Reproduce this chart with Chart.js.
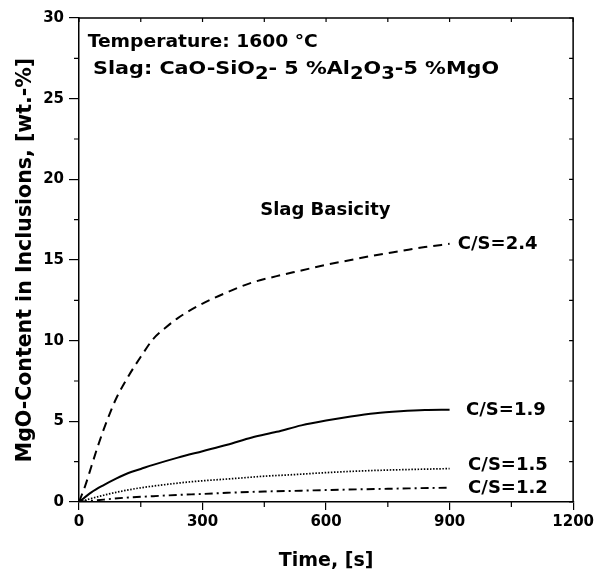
<!DOCTYPE html>
<html>
<head>
<meta charset="utf-8">
<script src="https://cdn.jsdelivr.net/npm/chart.js@4.4.1/dist/chart.umd.min.js"></script>
<style>
  html, body { margin:0; padding:0; background:#fff; }
  #wrap { width:597px; height:579px; }
</style>
</head>
<body>
<div id="wrap"><canvas id="mgoChart" width="597" height="579"></canvas></div>
<script>
// time axis (s) and MgO content (wt.-%)
const time24 = [0, 15, 30, 45, 60, 75, 90, 120, 150, 180, 210, 240, 300, 360, 420, 480, 540, 600, 660, 720, 780, 840, 900];
const cs24   = [0, 1.0, 2.2, 3.4, 4.5, 5.5, 6.4, 7.8, 9.0, 10.1, 10.8, 11.4, 12.3, 13.0, 13.6, 14.0, 14.35, 14.7, 15.0, 15.3, 15.55, 15.8, 16.0];

const time19 = [0, 30, 60, 90, 120, 150, 180, 240, 300, 360, 420, 480, 540, 600, 660, 720, 780, 840, 900];
const cs19   = [0, 0.6, 1.05, 1.45, 1.8, 2.05, 2.3, 2.75, 3.15, 3.55, 4.0, 4.35, 4.75, 5.05, 5.3, 5.5, 5.62, 5.7, 5.72];

const time15 = [0, 30, 60, 90, 120, 150, 210, 270, 330, 390, 450, 510, 600, 690, 780, 900];
const cs15   = [0, 0.22, 0.42, 0.6, 0.75, 0.88, 1.08, 1.25, 1.37, 1.48, 1.6, 1.68, 1.82, 1.93, 2.0, 2.07];

const time12 = [0, 60, 120, 180, 240, 300, 360, 450, 540, 600, 750, 900];
const cs12   = [0, 0.15, 0.28, 0.36, 0.44, 0.5, 0.57, 0.65, 0.7, 0.74, 0.82, 0.89];

const xTicks = [0, 300, 600, 900, 1200];
const yTicks = [0, 5, 10, 15, 20, 25, 30];

const FONT = "'DejaVu Sans', sans-serif";

function pts(t, v){
  return t.map((x,i)=>({ x, y: v[i] }));
}

function series(label, t, v, dash, w){
  return {
    label,
    data: pts(t, v),
    showLine: true,
    borderColor: '#000',
    borderWidth: w,
    borderDash: dash,
    pointRadius: 0,
    cubicInterpolationMode: 'monotone',
    fill: false
  };
}

// draws [text, isSubscript] pieces in a row, stretched between x0 and x1
function stretchedLine(ctx, pieces, x0, x1, by, big, sub){
  const widthOf = ([s, isSub]) => { ctx.font = isSub ? sub : big; return ctx.measureText(s).width; };
  const natural = pieces.reduce((w, p)=>w + widthOf(p), 0);
  ctx.save();
  ctx.translate(x0, by);
  ctx.scale((x1 - x0) / natural, 1);
  let cx = 0;
  pieces.forEach(p=>{
    const w = widthOf(p);
    ctx.fillText(p[0], cx, p[1] ? 5 : 0);
    cx += w;
  });
  ctx.restore();
}

// minor ticks, inner ticks on top/right, frame and text labels
const decorations = {
  id: 'decorations',
  afterDraw(chart){
    const { ctx, chartArea: a, scales: { x, y } } = chart;
    ctx.save();
    ctx.strokeStyle = '#000';
    ctx.lineWidth = 1.5;
    ctx.beginPath();
    ctx.moveTo(a.left, a.top); ctx.lineTo(a.right, a.top); ctx.lineTo(a.right, a.bottom);
    ctx.stroke();

    ctx.lineWidth = 1.2;
    ctx.beginPath();
    for(let v = 0; v <= 1200; v += 150){
      const px = x.getPixelForValue(v);
      if(v % 300) { ctx.moveTo(px, a.bottom); ctx.lineTo(px, a.bottom + 5); }
      ctx.moveTo(px, a.top); ctx.lineTo(px, a.top + 4);
    }
    for(let v = 0; v <= 30; v += 2.5){
      const py = y.getPixelForValue(v);
      if(v % 5) { ctx.moveTo(a.left, py); ctx.lineTo(a.left - 5, py); }
      ctx.moveTo(a.right, py); ctx.lineTo(a.right - 4, py);
    }
    ctx.stroke();

    ctx.fillStyle = '#000';
    ctx.textBaseline = 'alphabetic';
    ctx.textAlign = 'left';
    const big = 'bold 18px ' + FONT;
    const sub = 'bold 17px ' + FONT;

    stretchedLine(ctx, [['Temperature: 1600 °C', 0]],
      x.getPixelForValue(21), x.getPixelForValue(580), y.getPixelForValue(28.2), big, sub);

    stretchedLine(ctx, [
      ['Slag: CaO-SiO', 0], ['2', 1], ['- 5 %Al', 0], ['2', 1], ['O', 0], ['3', 1], ['-5 %MgO', 0]
    ], x.getPixelForValue(34), x.getPixelForValue(1020), y.getPixelForValue(26.5), big, sub);

    ctx.font = big;
    ctx.fillText('Slag Basicity', x.getPixelForValue(440), y.getPixelForValue(17.8));
    ctx.fillText('C/S=2.4', x.getPixelForValue(920), y.getPixelForValue(15.7));
    ctx.fillText('C/S=1.9', x.getPixelForValue(940), y.getPixelForValue(5.38));
    ctx.fillText('C/S=1.5', x.getPixelForValue(945), y.getPixelForValue(1.98));
    ctx.fillText('C/S=1.2', x.getPixelForValue(945), y.getPixelForValue(0.56));
    ctx.restore();
  }
};

new Chart(document.getElementById('mgoChart'), {
  type: 'scatter',
  data: {
    datasets: [
      series('C/S=2.4', time24, cs24, [9, 6], 2),
      series('C/S=1.9', time19, cs19, [], 2),
      series('C/S=1.5', time15, cs15, [1.5, 1.6], 1.7),
      series('C/S=1.2', time12, cs12, [8, 4, 2, 4], 1.9)
    ]
  },
  options: {
    responsive: false,
    animation: false,
    events: [],
    layout: { padding: { top: 18, right: 21, left: 0, bottom: 0 } },
    plugins: { legend: { display: false }, tooltip: { enabled: false } },
    scales: {
      x: {
        type: 'linear', min: 0, max: 1200,
        afterBuildTicks: s => { s.ticks = xTicks.map(v=>({ value: v })); },
        afterFit: s => { s.height = 77; },
        ticks: { color: '#000', font: { family: FONT, weight: 'bold', size: 15 }, padding: 3, maxRotation: 0, callback: v => String(v) },
        grid: { drawOnChartArea: false, color: '#000', lineWidth: 1.2, tickLength: 8 },
        border: { color: '#000', width: 1.5 },
        title: { display: true, text: 'Time, [s]', color: '#000', font: { family: FONT, weight: 'bold', size: 19 }, padding: { top: 0, bottom: 7 } }
      },
      y: {
        type: 'linear', min: 0, max: 30,
        afterBuildTicks: s => { s.ticks = yTicks.map(v=>({ value: v })); },
        afterFit: s => { s.width = 79; },
        ticks: { color: '#000', font: { family: FONT, weight: 'bold', size: 15 }, padding: 5, callback: v => String(v) },
        grid: { drawOnChartArea: false, color: '#000', lineWidth: 1.2, tickLength: 10 },
        border: { color: '#000', width: 1.5 },
        title: { display: true, text: 'MgO-Content in Inclusions, [wt.-%]', color: '#000', font: { family: FONT, weight: 'bold', size: 20.5 }, padding: { top: 13, bottom: 0 } }
      }
    }
  },
  plugins: [decorations]
});
</script>
</body>
</html>
